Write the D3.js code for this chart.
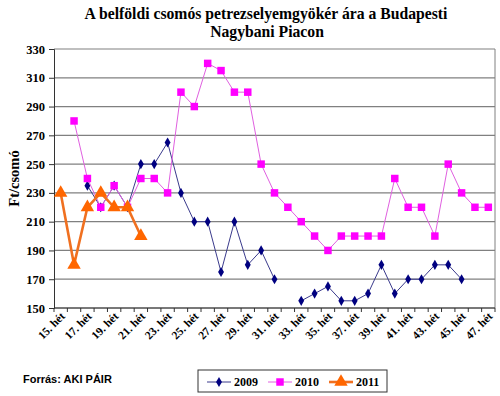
<!DOCTYPE html>
<html>
<head>
<meta charset="utf-8">
<script src="https://cdn.jsdelivr.net/npm/d3@7"></script>
<style>
  body { margin: 0; background: #fff; }
  svg { display: block; }
</style>
</head>
<body>
<div class="canvas"></div>
<script>
// weeks on the x axis, 15. hét .. 47. hét
const weeks = d3.range(15, 48);
const weekLabels = weeks.map(w => w + '. hét');

// prices (Ft/csomó), null = no data that week
const y2009 = [null, null, 235, 220, 235, 220, 250, 250, 265, 230, 210, 210, 175, 210, 180, 190, 170,
  null, 155, 160, 165, 155, 155, 160, 180, 160, 170, 170, 180, 180, 170, null, null];
const y2010 = [null, 280, 240, 220, 235, 220, 240, 240, 230, 300, 290, 320, 315, 300, 300, 250, 230,
  220, 210, 200, 190, 200, 200, 200, 200, 240, 220, 220, 200, 250, 230, 220, 220];
const y2011 = [230, 180, 220, 230, 220, 220, 200];

const yTicks = d3.range(150, 331, 20);

const width = 500, height = 396;
const margin = { top: 49, right: 5, bottom: 88, left: 54 };

const svg = d3.select('.canvas')
  .append('svg')
  .attr('width', width)
  .attr('height', height);

const serif = '"Liberation Serif", "Times New Roman", serif';

// title
svg.append('text')
  .attr('x', 266).attr('y', 19)
  .attr('text-anchor', 'middle')
  .style('font', `bold 15.7px ${serif}`)
  .text('A belföldi csomós petrezselyemgyökér ára a Budapesti');
svg.append('text')
  .attr('x', 267).attr('y', 37)
  .attr('text-anchor', 'middle')
  .style('font', `bold 15.7px ${serif}`)
  .text('Nagybani Piacon');

//scales
const x = d3.scaleBand()
  .domain(weekLabels)
  .range([margin.left, width - margin.right])
  .padding(0);

const y = d3.scaleLinear()
  .domain([150, 330])
  .range([height - margin.bottom, margin.top]);

// gridlines
svg.append('g')
  .selectAll('line')
  .data(yTicks)
  .enter().append('line')
  .attr('x1', margin.left).attr('x2', width - margin.right)
  .attr('y1', d => y(d)).attr('y2', d => y(d))
  .attr('stroke', '#808080')
  .attr('stroke-width', 1.2);

// right border of plot
svg.append('line')
  .attr('x1', width - margin.right).attr('x2', width - margin.right)
  .attr('y1', y(330)).attr('y2', y(150))
  .attr('stroke', '#808080');

// y axis
const yAxis = d3.axisLeft(y).tickValues(yTicks).tickSize(5).tickPadding(4);
const yAxisGroup = svg.append('g')
  .attr('transform', `translate(${margin.left},0)`)
  .call(yAxis);
yAxisGroup.select('.domain').attr('stroke', '#333');
yAxisGroup.selectAll('.tick line').attr('stroke', '#333');
yAxisGroup.selectAll('text')
  .style('font', `bold 12.5px ${serif}`)
  .attr('fill', '#000');

// y axis title
svg.append('text')
  .attr('transform', `translate(19, ${(y(150) + y(330)) / 2}) rotate(-90)`)
  .attr('text-anchor', 'middle')
  .style('font', `bold 14.5px ${serif}`)
  .text('Ft/csomó');

// x axis line + ticks at category boundaries
const xAxisGroup = svg.append('g');
xAxisGroup.append('line')
  .attr('x1', margin.left).attr('x2', width - margin.right)
  .attr('y1', y(150)).attr('y2', y(150))
  .attr('stroke', '#333');
const bounds = weekLabels.map(d => x(d)).concat([x.range()[1]]);
xAxisGroup.selectAll('line.tk')
  .data(bounds)
  .enter().append('line')
  .attr('class', 'tk')
  .attr('x1', d => d).attr('x2', d => d)
  .attr('y1', y(150)).attr('y2', y(150) + 4)
  .attr('stroke', '#333');

// x labels, every second week
xAxisGroup.selectAll('text')
  .data(weekLabels.filter((d, i) => i % 2 === 0))
  .enter().append('text')
  .attr('transform', d => `translate(${x(d) + x.bandwidth() / 2 + 5}, ${y(150) + 9}) rotate(-45)`)
  .attr('text-anchor', 'end')
  .style('font', `bold 11.5px ${serif}`)
  .text(d => d);

// series
const series = [
  { name: '2009', values: y2009, color: '#000080', lineColor: '#3a3a8c', width: 1, shape: d3.symbolDiamond, size: 30 },
  { name: '2010', values: y2010, color: '#ff00ff', lineColor: '#e060e0', width: 1, shape: d3.symbolSquare, size: 56 },
  { name: '2011', values: y2011, color: '#ff6600', lineColor: '#f07020', width: 2.6, shape: d3.symbolTriangle, size: 78 }
];

const line = d3.line()
  .defined(d => d.v != null)
  .x(d => x(d.w) + x.bandwidth() / 2)
  .y(d => y(d.v));

series.forEach(s => {
  const pts = s.values.map((v, i) => ({ w: weekLabels[i], v: v }));
  const g = svg.append('g');
  g.append('path')
    .datum(pts)
    .attr('d', line)
    .attr('fill', 'none')
    .attr('stroke', s.lineColor)
    .attr('stroke-width', s.width);
  g.selectAll('path.pt')
    .data(pts.filter(d => d.v != null))
    .enter().append('path')
    .attr('class', 'pt')
    .attr('transform', d => `translate(${x(d.w) + x.bandwidth() / 2},${y(d.v)})`)
    .attr('d', d3.symbol().type(s.shape).size(s.size))
    .attr('fill', s.color);
});

// source note
svg.append('text')
  .attr('x', 23).attr('y', 383)
  .style('font', 'bold 11px "Liberation Sans", Arial, sans-serif')
  .text('Forrás: AKI PÁIR');

// legend
const legend = svg.append('g').attr('transform', 'translate(198,370)');
legend.append('rect')
  .attr('width', 189).attr('height', 22)
  .attr('fill', '#fff').attr('stroke', '#333');
series.forEach((s, i) => {
  const lx = 9 + i * 61;
  const gi = legend.append('g').attr('transform', `translate(${lx},12)`);
  gi.append('line')
    .attr('x1', 0).attr('x2', 24)
    .attr('stroke', s.lineColor).attr('stroke-width', s.width);
  gi.append('path')
    .attr('transform', 'translate(12,0)')
    .attr('d', d3.symbol().type(s.shape).size(s.size))
    .attr('fill', s.color);
  gi.append('text')
    .attr('x', 27).attr('y', 4)
    .style('font', `bold 12px ${serif}`)
    .text(s.name);
});
</script>
</body>
</html>
